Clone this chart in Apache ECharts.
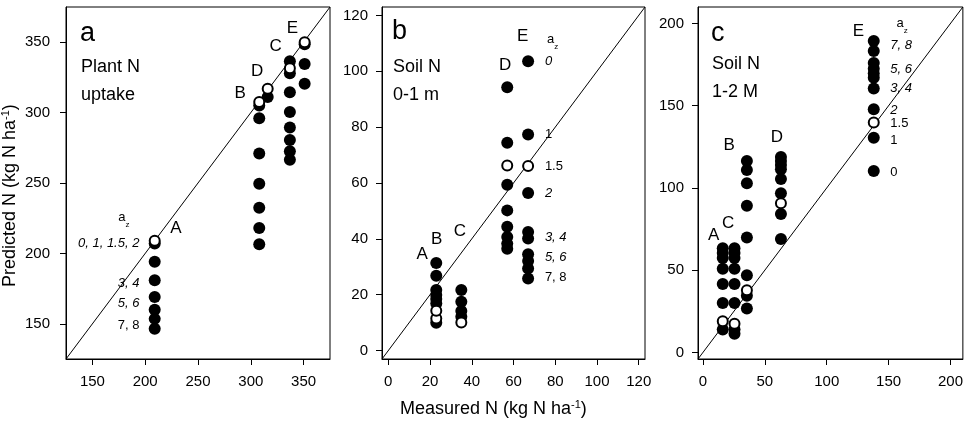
<!DOCTYPE html>
<html>
<head>
    <meta charset="utf-8">
    <title>Predicted vs measured N</title>
    <script src="https://cdn.jsdelivr.net/npm/echarts@6/dist/echarts.min.js"></script>
</head>
<body style="margin:0">
    <div id="main" style="width:966px;height:428px;"></div>
    <script type="text/javascript">
        // ---- data ----
        // panel a: plant N uptake
        var aGroups = ['A', 'B', 'C', 'D', 'E'];
        var aMeasured = [209, 308, 337, 316, 351];
        var aFilled = [
            [207, 194, 181, 169, 160, 153.5, 146.5],
            [305, 296, 271, 249.5, 232.5, 218, 206.5],
            [336.5, 328, 314.5, 300.5, 289.5, 280.5, 272.5, 266.5],
            [311],
            [348.5, 334.5, 320.5]
        ];
        var aOpen = [[209], [307.5], [331.5], [317], [350]];

        // panel b: soil N 0-1 m
        var bGroups = ['A', 'B', 'C', 'D', 'E'];
        var bMeasured = [23, 23, 35, 57, 67];
        var bFilled = [
            [21.7, 18.5, 10],
            [31.4, 26.8, 19.9, 16.9],
            [21.7, 17.5, 14.2, 12.1],
            [94.3, 74.4, 59.4, 50.2, 44.3, 40.7, 38.3, 36.5],
            [103.6, 77.4, 56.4, 42.5, 40.1, 34.5, 32.1, 29.4, 25.8]
        ];
        var bOpen = [[11.5], [14.3], [10.1], [66.3], [66.1]];

        // panel c: soil N 1-2 m
        var cGroups = ['A', 'B', 'C', 'D', 'E'];
        var cMeasured = [16, 35.5, 25.5, 63, 138];
        var cFilled = [
            [63.4, 60.4, 57.4, 50.9, 41.6, 30.1, 13.9],
            [116.4, 110.9, 102.8, 89.1, 69.9, 46.9, 34.5, 26.7],
            [63.4, 60.4, 57.4, 50.9, 41.6, 30.1, 13.9, 11.3],
            [118.8, 116.4, 113.9, 111.3, 105.5, 96.8, 84.2, 68.9],
            [189.3, 183.2, 175.9, 172.5, 169.5, 167, 160.4, 147.9, 130.5, 110.3]
        ];
        var cOpen = [[19], [37.8], [17.4], [90.7], [139.8]];

        // axis ranges and tick labels
        var aRange = [125, 375], aTicks = [150, 200, 250, 300, 350];
        var bRange = [-3, 123], bTicks = [0, 20, 40, 60, 80, 100, 120];
        var cRange = [-4, 210], cTicks = [0, 50, 100, 150, 200];

        // group letters [x, y, text] in data units
        var aLetters = [[229, 218, 'A'], [290, 314, 'B'], [306, 329.5, 'D'], [323.5, 347, 'C'], [339.5, 360, 'E']];
        var bLetters = [[16.3, 34.4, 'A'], [23.2, 39.8, 'B'], [34.3, 42.7, 'C'], [56, 102, 'D'], [64.4, 112.4, 'E']];
        var cLetters = [[8.6, 71, 'A'], [20.4, 78.6, 'C'], [21.2, 126, 'B'], [59.7, 131, 'D'], [125.6, 195, 'E']];

        // a_z labels [x, y, text, italic]
        var aAz = [179.7, 224];
        var aAzLabels = [[195, 206.8, '0, 1, 1.5, 2', 1], [195, 178.8, '3, 4', 1], [195, 164.6, '5, 6', 1], [195, 148.7, '7, 8', 0]];
        var bAz = [78.7, 110.4];
        var bAzLabels = [[74.8, 103.6, '0', 1], [74.8, 77.4, '1', 0], [74.8, 66.1, '1.5', 0], [74.8, 56.4, '2', 1],
            [74.8, 40.7, '3, 4', 1], [74.8, 33.3, '5, 6', 1], [74.8, 26.1, '7, 8', 0]];
        var cAz = [161, 198.8];
        var cAzLabels = [[151, 186.7, '7, 8', 1], [151, 172.1, '5, 6', 1], [151, 160.8, '3, 4', 1], [151, 147.3, '2', 1],
            [151, 139.2, '1.5', 0], [151, 129.1, '1', 0], [151, 109.3, '0', 0]];

        // ---- chart ----
        var FONT = '"Liberation Sans", Arial, sans-serif';
        var dom = document.getElementById('main');
        var myChart = echarts.init(dom);

        function points(measured, groups) {
            var out = [];
            for (var i = 0; i < measured.length; i++) {
                for (var j = 0; j < groups[i].length; j++) {
                    out.push([measured[i], groups[i][j]]);
                }
            }
            return out;
        }

        function makeAxis(idx, range, ticks, margin) {
            return {
                gridIndex: idx,
                type: 'value',
                min: range[0],
                max: range[1],
                axisLine: { show: true, onZero: false, lineStyle: { color: '#000', width: 1 } },
                axisTick: { show: true, length: 6, customValues: ticks, lineStyle: { color: '#000' } },
                axisLabel: { customValues: ticks, color: '#000', fontSize: 15, fontFamily: FONT, margin: margin },
                splitLine: { show: false }
            };
        }

        // invisible carrier symbols for text, opacity 1 so labels stay solid black
        var hidden = { color: 'rgba(0,0,0,0)', opacity: 1 };

        function panelSeries(idx, range, measured, filled, open, letters, az, azLabels, labelSide) {
            var list = [];
            // 1:1 line
            list.push({
                type: 'line', xAxisIndex: idx, yAxisIndex: idx, silent: true,
                data: [[range[0], range[0]], [range[1], range[1]]],
                symbol: 'none', lineStyle: { color: '#000', width: 1 }, z: 1
            });
            list.push({
                type: 'scatter', xAxisIndex: idx, yAxisIndex: idx, silent: true,
                data: points(measured, filled), symbolSize: 12,
                itemStyle: { color: '#000', opacity: 1 }, z: 2
            });
            list.push({
                type: 'scatter', xAxisIndex: idx, yAxisIndex: idx, silent: true,
                data: points(measured, open), symbolSize: 10,
                itemStyle: { color: '#fff', borderColor: '#000', borderWidth: 2, opacity: 1 }, z: 3
            });
            // group letters
            list.push({
                type: 'scatter', xAxisIndex: idx, yAxisIndex: idx, silent: true, symbolSize: 1,
                itemStyle: hidden,
                data: letters.map(function (d) { return { value: [d[0], d[1]], name: d[2] }; }),
                label: { show: true, position: 'inside', formatter: '{b}', color: '#000', fontSize: 17, fontFamily: FONT },
                z: 4
            });
            // a_z header
            list.push({
                type: 'scatter', xAxisIndex: idx, yAxisIndex: idx, silent: true, symbolSize: 1,
                itemStyle: hidden,
                data: [az],
                label: {
                    show: true, position: 'inside', formatter: '{a|a}{z|z}', color: '#000', fontFamily: FONT,
                    rich: {
                        a: { fontSize: 13, fontFamily: FONT, color: '#000', verticalAlign: 'top', lineHeight: 18 },
                        z: { fontSize: 8, fontFamily: FONT, color: '#000', verticalAlign: 'bottom', lineHeight: 18 }
                    }
                },
                z: 4
            });
            // a_z values
            list.push({
                type: 'scatter', xAxisIndex: idx, yAxisIndex: idx, silent: true, symbolSize: 1,
                itemStyle: hidden,
                data: azLabels.map(function (d) {
                    return {
                        value: [d[0], d[1]], name: d[2],
                        label: { fontStyle: d[3] ? 'italic' : 'normal' }
                    };
                }),
                label: {
                    show: true, position: labelSide, distance: 0, formatter: '{b}',
                    color: '#000', fontSize: 13, fontFamily: FONT
                },
                z: 4
            });
            return list;
        }

        function panelText(x, y, text, size) {
            return {
                type: 'text', left: x, top: y, silent: true,
                style: { text: text, fill: '#000', font: size + 'px ' + FONT }
            };
        }

        var option = {
            animation: false,
            backgroundColor: '#fff',
            grid: [
                { left: 66, top: 7, width: 264, height: 352, show: true, borderColor: '#000', borderWidth: 1 },
                { left: 382, top: 7, width: 263, height: 352, show: true, borderColor: '#000', borderWidth: 1 },
                { left: 698, top: 7, width: 265, height: 352, show: true, borderColor: '#000', borderWidth: 1 }
            ],
            xAxis: [makeAxis(0, aRange, aTicks, 15), makeAxis(1, bRange, bTicks, 15), makeAxis(2, cRange, cTicks, 15)],
            yAxis: [makeAxis(0, aRange, aTicks, 16), makeAxis(1, bRange, bTicks, 14), makeAxis(2, cRange, cTicks, 14)],
            series: [].concat(
                panelSeries(0, aRange, aMeasured, aFilled, aOpen, aLetters, aAz, aAzLabels, 'left'),
                panelSeries(1, bRange, bMeasured, bFilled, bOpen, bLetters, bAz, bAzLabels, 'right'),
                panelSeries(2, cRange, cMeasured, cFilled, cOpen, cLetters, cAz, cAzLabels, 'right')
            ),
            graphic: [
                panelText(80, 20, 'a', 27),
                panelText(81, 58, 'Plant N', 18),
                panelText(81, 86, 'uptake', 18),
                panelText(392, 18, 'b', 27),
                panelText(393, 58, 'Soil N', 18),
                panelText(393, 86, '0-1 m', 18),
                panelText(711, 20, 'c', 27),
                panelText(712, 55, 'Soil N', 18),
                panelText(712, 83, '1-2 M', 18),
                {
                    type: 'text', left: 400, top: 399, silent: true,
                    style: {
                        text: 'Measured N (kg N ha{sup|-1})', fill: '#000', font: '18px ' + FONT,
                        rich: { sup: { fontSize: 11, fontFamily: FONT, fill: '#000', verticalAlign: 'top', lineHeight: 20 } }
                    }
                },
                {
                    type: 'text', x: 0, y: 287, rotation: Math.PI / 2, silent: true,
                    style: {
                        text: 'Predicted N (kg N ha{sup|-1})', fill: '#000', font: '18px ' + FONT,
                        rich: { sup: { fontSize: 11, fontFamily: FONT, fill: '#000', verticalAlign: 'top', lineHeight: 20 } }
                    }
                }
            ]
        };
        myChart.setOption(option);
    </script>
</body>
</html>
